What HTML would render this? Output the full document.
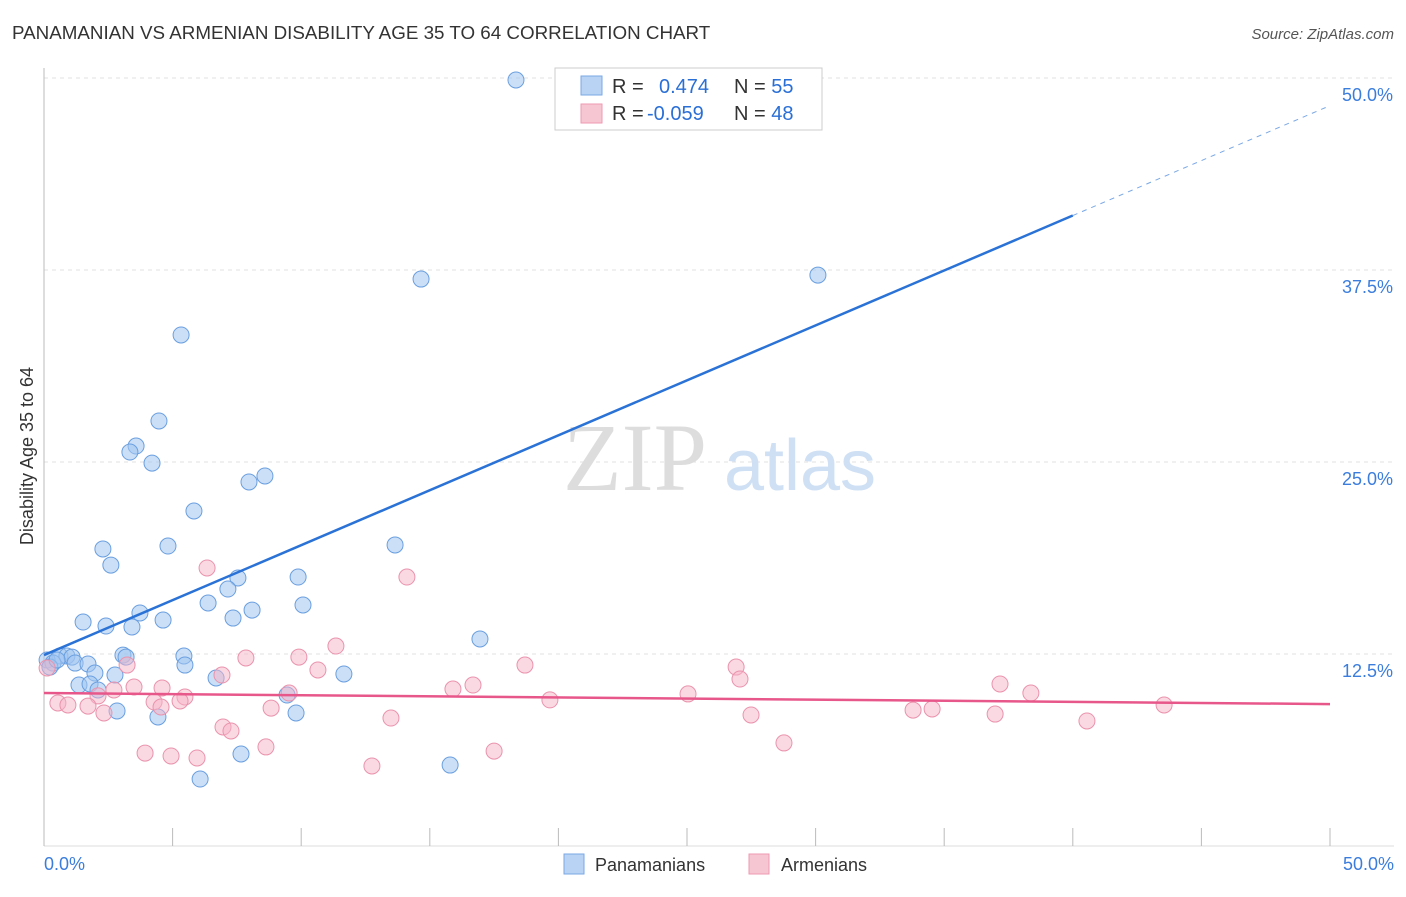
<!DOCTYPE html>
<html><head><meta charset="utf-8"><style>
body{margin:0;background:#fff;font-family:"Liberation Sans",sans-serif;}
</style></head><body>
<svg id="chart" width="1406" height="892" xmlns="http://www.w3.org/2000/svg">
<text x="12" y="39" font-size="18.8" fill="#333">PANAMANIAN VS ARMENIAN DISABILITY AGE 35 TO 64 CORRELATION CHART</text>
<text x="1394" y="39" font-size="15" fill="#555" text-anchor="end" font-style="italic">Source: ZipAtlas.com</text>
<g id="grid"></g>
<text x="635" y="490" font-size="96" fill="#ddd" text-anchor="middle" font-family="Liberation Serif,serif">ZIP</text>
<text x="800" y="490" font-size="72" fill="#cfe0f5" text-anchor="middle">atlas</text>
<text transform="translate(33,456) rotate(-90)" font-size="18" fill="#333" text-anchor="middle">Disability Age 35 to 64</text>
<g id="marks"></g>
<g>
<rect x="555" y="68" width="267" height="62" fill="#fff" stroke="#ccc"/>
<rect x="581" y="76" width="21" height="19" fill="#b8d3f3" stroke="#7aa8e6"/>
<rect x="581" y="104" width="21" height="19" fill="#f7c6d3" stroke="#ec9ab2"/>
<text x="612" y="93" font-size="20" fill="#333">R = <tspan fill="#2a6fd6" x="659">0.474</tspan><tspan fill="#333" x="734">N = </tspan><tspan fill="#2a6fd6">55</tspan></text>
<text x="612" y="120" font-size="20" fill="#333">R = <tspan fill="#2a6fd6" x="647">-0.059</tspan><tspan fill="#333" x="734">N = </tspan><tspan fill="#2a6fd6">48</tspan></text>
</g>
<g>
<rect x="564" y="854" width="20" height="20" fill="#b8d3f3" stroke="#7aa8e6"/>
<text x="595" y="871" font-size="18" fill="#333">Panamanians</text>
<rect x="749" y="854" width="20" height="20" fill="#f7c6d3" stroke="#ec9ab2"/>
<text x="781" y="871" font-size="18" fill="#333">Armenians</text>
</g>
</svg>
<script>
const yTicks=[12.5,25,37.5,50];
const yTickLabels=["12.5%","25.0%","37.5%","50.0%"];
const xTickLabels=["0.0%","50.0%"];
const blueX=[18.35,14.66,30.09,5.33,4.47,3.58,3.34,4.20,8.59,7.97,5.83,13.65,2.29,4.82,2.60,7.54,9.88,7.15,6.38,10.07,8.09,3.73,7.35,4.63,1.52,2.41,3.42,16.95,0.62,0.89,1.09,3.07,3.19,5.44,0.12,0.35,1.21,1.71,5.48,1.98,2.76,11.66,6.69,1.36,1.79,2.10,9.45,2.84,4.43,9.80,7.66,15.79,6.07,0.23,0.51];
const blueY=[49.87,36.91,37.17,33.27,27.67,26.04,25.65,24.93,24.09,23.70,21.81,19.60,19.34,19.53,18.29,17.45,17.51,16.73,15.82,15.69,15.36,15.17,14.84,14.71,14.58,14.32,14.26,13.48,12.37,12.37,12.30,12.43,12.30,12.37,12.11,11.91,11.91,11.85,11.78,11.26,11.13,11.20,10.94,10.48,10.55,10.16,9.83,8.79,8.40,8.66,5.99,5.27,4.36,11.65,12.11];
const pinkX=[0.12,6.34,14.11,11.35,9.91,7.85,3.23,6.92,10.65,18.70,26.91,27.06,37.17,38.37,16.68,15.90,5.48,9.53,2.10,2.72,3.50,4.59,4.28,5.29,0.54,0.93,1.71,2.33,8.83,19.67,25.04,33.79,34.53,36.98,40.55,43.55,13.49,27.49,6.96,7.27,8.63,3.93,4.94,5.95,17.50,12.75,28.77,4.55];
const pinkY=[11.59,18.10,17.51,13.02,12.30,12.24,11.78,11.13,11.46,11.78,11.65,10.87,10.55,9.96,10.48,10.22,9.70,9.96,9.77,10.16,10.35,10.29,9.38,9.44,9.31,9.18,9.11,8.66,8.98,9.51,9.90,8.85,8.92,8.59,8.14,9.18,8.33,8.53,7.75,7.49,6.45,6.05,5.86,5.73,6.18,5.21,6.71,9.05];
const blueTrend=[12.43,48.2];
const pinkTrend=[9.96,9.24];
const NS="http://www.w3.org/2000/svg";
const sx=v=>44+v*25.72, sy=v=>846-v*15.36;
function mk(tag,attrs,parent){const e=document.createElementNS(NS,tag);for(const k in attrs)e.setAttribute(k,attrs[k]);parent.appendChild(e);return e;}
const grid=document.getElementById('grid'), marks=document.getElementById('marks');
yTicks.forEach((t,i)=>{
 const l=mk('line',{x1:44,x2:1394,y1:sy(t),y2:sy(t),stroke:'#e2e2e2','stroke-dasharray':'4,4'},grid);
 
 
 const tx=mk('text',{x:1393,y:sy(t)+23,'font-size':18,fill:'#3b7ddd','text-anchor':'end'},grid);
 tx.textContent=yTickLabels[i];
 
 
});
const ax=mk('line',{x1:44,x2:44,y1:68,y2:846,stroke:'#bbb'},grid);


const bx=mk('line',{x1:44,x2:1394,y1:846,y2:846,stroke:'#ddd'},grid);


for(let v=0;v<=50;v+=5){
 const t=mk('line',{x1:sx(v),x2:sx(v),y1:828,y2:846,stroke:'#bbb'},grid);
 
 
}
[[0,'start'],[50,'end']].forEach((p,i)=>{
 const t=mk('text',{x:i?1394:44,y:870,'font-size':18,fill:'#3b7ddd','text-anchor':p[1]},grid);
 t.textContent=xTickLabels[i];
 
 
});
blueX.forEach((x,i)=>{
 const c=mk('circle',{cx:sx(x),cy:sy(blueY[i]),r:8,fill:'rgba(160,196,240,0.55)',stroke:'#6a9fe0','stroke-width':1},marks);
 
 
});
pinkX.forEach((x,i)=>{
 const c=mk('circle',{cx:sx(x),cy:sy(pinkY[i]),r:8,fill:'rgba(245,180,200,0.5)',stroke:'#ea93ad','stroke-width':1},marks);
 
 
});
const bAt=v=>blueTrend[0]+(blueTrend[1]-blueTrend[0])*v/50;
const bl=mk('line',{x1:sx(0),y1:sy(bAt(0)),x2:sx(40),y2:sy(bAt(40)),stroke:'#2a72d6','stroke-width':2.5},marks);


const bd=mk('line',{x1:sx(40),y1:sy(bAt(40)),x2:sx(50),y2:sy(bAt(50)),stroke:'#7aa8e6','stroke-width':1,'stroke-dasharray':'5,5'},marks);


const pl=mk('line',{x1:sx(0),y1:sy(pinkTrend[0]),x2:sx(50),y2:sy(pinkTrend[1]),stroke:'#e8578a','stroke-width':2.5},marks);


</script>
</body></html>
